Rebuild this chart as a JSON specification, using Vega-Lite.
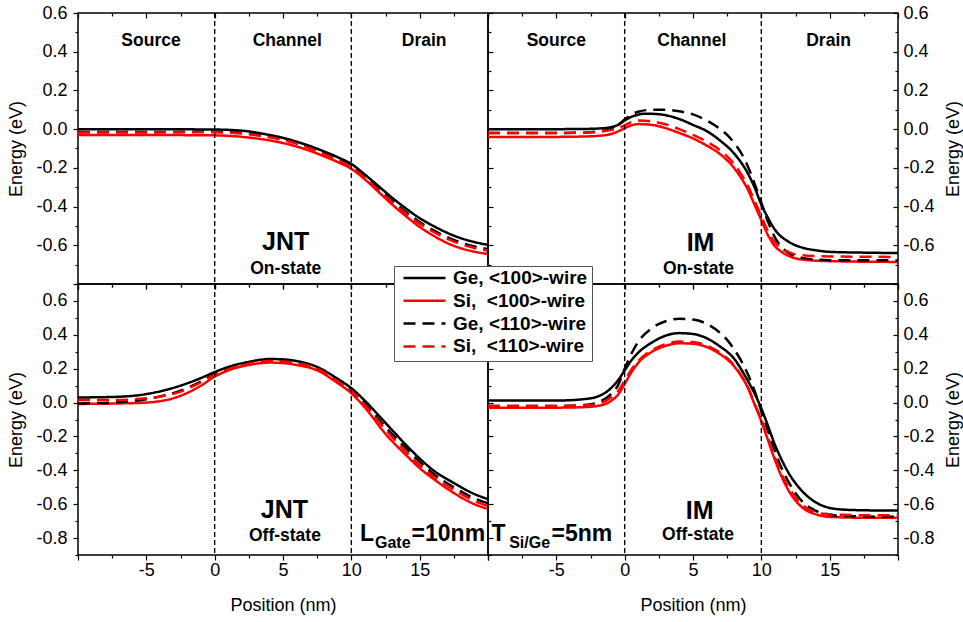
{
"$schema": "https://vega.github.io/schema/vega-lite/v6.json",
"background": "white",
"padding": {"left": 7, "top": 3, "right": 0, "bottom": 0},
"bounds": "flush",
"spacing": 0,
"columns": 2,
"config": {
  "font": "Liberation Sans",
  "view": {"stroke": "#000", "strokeWidth": 1.5},
  "axis": {"labelFont": "Liberation Sans", "labelFontSize": 18, "labelColor": "#000", "titleFont": "Liberation Sans", "titleFontSize": 18, "titleFontWeight": "normal", "titleColor": "#000", "tickColor": "#000", "tickWidth": 1.2, "domain": false, "grid": false, "labelFlush": false, "labelOverlap": false},
  "legend": {"labelFont": "Liberation Sans"}
},
"datasets": {
"curves": [
{"p":"TL","s":"g1","x":-10,"y":0},{"p":"TL","s":"g1","x":-5,"y":0},{"p":"TL","s":"g1","x":-2,"y":-0.001},{"p":"TL","s":"g1","x":0,"y":-0.002},{"p":"TL","s":"g1","x":2,"y":-0.008},{"p":"TL","s":"g1","x":4,"y":-0.03},{"p":"TL","s":"g1","x":5,"y":-0.045},{"p":"TL","s":"g1","x":6,"y":-0.065},{"p":"TL","s":"g1","x":7,"y":-0.088},{"p":"TL","s":"g1","x":8,"y":-0.115},{"p":"TL","s":"g1","x":9,"y":-0.145},{"p":"TL","s":"g1","x":10,"y":-0.18},{"p":"TL","s":"g1","x":11,"y":-0.235},{"p":"TL","s":"g1","x":12,"y":-0.295},{"p":"TL","s":"g1","x":13,"y":-0.355},{"p":"TL","s":"g1","x":14,"y":-0.41},{"p":"TL","s":"g1","x":15,"y":-0.46},{"p":"TL","s":"g1","x":16,"y":-0.5},{"p":"TL","s":"g1","x":17,"y":-0.535},{"p":"TL","s":"g1","x":18,"y":-0.563},{"p":"TL","s":"g1","x":19,"y":-0.583},{"p":"TL","s":"g1","x":20,"y":-0.598},
{"p":"TL","s":"s1","x":-10,"y":-0.03},{"p":"TL","s":"s1","x":-5,"y":-0.03},{"p":"TL","s":"s1","x":-2,"y":-0.031},{"p":"TL","s":"s1","x":0,"y":-0.032},{"p":"TL","s":"s1","x":2,"y":-0.04},{"p":"TL","s":"s1","x":4,"y":-0.058},{"p":"TL","s":"s1","x":5,"y":-0.072},{"p":"TL","s":"s1","x":6,"y":-0.09},{"p":"TL","s":"s1","x":7,"y":-0.113},{"p":"TL","s":"s1","x":8,"y":-0.14},{"p":"TL","s":"s1","x":9,"y":-0.17},{"p":"TL","s":"s1","x":10,"y":-0.205},{"p":"TL","s":"s1","x":11,"y":-0.26},{"p":"TL","s":"s1","x":12,"y":-0.325},{"p":"TL","s":"s1","x":13,"y":-0.39},{"p":"TL","s":"s1","x":14,"y":-0.45},{"p":"TL","s":"s1","x":15,"y":-0.505},{"p":"TL","s":"s1","x":16,"y":-0.55},{"p":"TL","s":"s1","x":17,"y":-0.588},{"p":"TL","s":"s1","x":18,"y":-0.615},{"p":"TL","s":"s1","x":19,"y":-0.633},{"p":"TL","s":"s1","x":20,"y":-0.645},
{"p":"TL","s":"g0","x":-10,"y":-0.015},{"p":"TL","s":"g0","x":-5,"y":-0.015},{"p":"TL","s":"g0","x":-2,"y":-0.014},{"p":"TL","s":"g0","x":0,"y":-0.014},{"p":"TL","s":"g0","x":2,"y":-0.02},{"p":"TL","s":"g0","x":4,"y":-0.038},{"p":"TL","s":"g0","x":5,"y":-0.052},{"p":"TL","s":"g0","x":6,"y":-0.072},{"p":"TL","s":"g0","x":7,"y":-0.096},{"p":"TL","s":"g0","x":8,"y":-0.124},{"p":"TL","s":"g0","x":9,"y":-0.155},{"p":"TL","s":"g0","x":10,"y":-0.19},{"p":"TL","s":"g0","x":11,"y":-0.245},{"p":"TL","s":"g0","x":12,"y":-0.308},{"p":"TL","s":"g0","x":13,"y":-0.37},{"p":"TL","s":"g0","x":14,"y":-0.428},{"p":"TL","s":"g0","x":15,"y":-0.48},{"p":"TL","s":"g0","x":16,"y":-0.522},{"p":"TL","s":"g0","x":17,"y":-0.558},{"p":"TL","s":"g0","x":18,"y":-0.586},{"p":"TL","s":"g0","x":19,"y":-0.606},{"p":"TL","s":"g0","x":20,"y":-0.62},
{"p":"TL","s":"s0","x":-10,"y":-0.017},{"p":"TL","s":"s0","x":-5,"y":-0.017},{"p":"TL","s":"s0","x":-2,"y":-0.016},{"p":"TL","s":"s0","x":0,"y":-0.016},{"p":"TL","s":"s0","x":2,"y":-0.023},{"p":"TL","s":"s0","x":4,"y":-0.042},{"p":"TL","s":"s0","x":5,"y":-0.056},{"p":"TL","s":"s0","x":6,"y":-0.076},{"p":"TL","s":"s0","x":7,"y":-0.1},{"p":"TL","s":"s0","x":8,"y":-0.129},{"p":"TL","s":"s0","x":9,"y":-0.16},{"p":"TL","s":"s0","x":10,"y":-0.196},{"p":"TL","s":"s0","x":11,"y":-0.252},{"p":"TL","s":"s0","x":12,"y":-0.316},{"p":"TL","s":"s0","x":13,"y":-0.378},{"p":"TL","s":"s0","x":14,"y":-0.437},{"p":"TL","s":"s0","x":15,"y":-0.488},{"p":"TL","s":"s0","x":16,"y":-0.53},{"p":"TL","s":"s0","x":17,"y":-0.566},{"p":"TL","s":"s0","x":18,"y":-0.594},{"p":"TL","s":"s0","x":19,"y":-0.614},{"p":"TL","s":"s0","x":20,"y":-0.628},

{"p":"TR","s":"g1","x":-10,"y":0},{"p":"TR","s":"g1","x":-5,"y":0},{"p":"TR","s":"g1","x":-3,"y":0.001},{"p":"TR","s":"g1","x":-2,"y":0.003},{"p":"TR","s":"g1","x":-1,"y":0.01},{"p":"TR","s":"g1","x":-0.5,"y":0.022},{"p":"TR","s":"g1","x":0,"y":0.045},{"p":"TR","s":"g1","x":0.5,"y":0.064},{"p":"TR","s":"g1","x":1,"y":0.075},{"p":"TR","s":"g1","x":1.5,"y":0.08},{"p":"TR","s":"g1","x":2.5,"y":0.077},{"p":"TR","s":"g1","x":4,"y":0.052},{"p":"TR","s":"g1","x":5,"y":0.022},{"p":"TR","s":"g1","x":6,"y":-0.01},{"p":"TR","s":"g1","x":7,"y":-0.06},{"p":"TR","s":"g1","x":8,"y":-0.125},{"p":"TR","s":"g1","x":9,"y":-0.227},{"p":"TR","s":"g1","x":9.5,"y":-0.3},{"p":"TR","s":"g1","x":10,"y":-0.39},{"p":"TR","s":"g1","x":10.5,"y":-0.46},{"p":"TR","s":"g1","x":11,"y":-0.52},{"p":"TR","s":"g1","x":12,"y":-0.582},{"p":"TR","s":"g1","x":13,"y":-0.612},{"p":"TR","s":"g1","x":14,"y":-0.626},{"p":"TR","s":"g1","x":15,"y":-0.634},{"p":"TR","s":"g1","x":17.5,"y":-0.638},{"p":"TR","s":"g1","x":20,"y":-0.64},
{"p":"TR","s":"s1","x":-10,"y":-0.04},{"p":"TR","s":"s1","x":-5,"y":-0.04},{"p":"TR","s":"s1","x":-3,"y":-0.038},{"p":"TR","s":"s1","x":-2,"y":-0.035},{"p":"TR","s":"s1","x":-1,"y":-0.025},{"p":"TR","s":"s1","x":-0.5,"y":-0.012},{"p":"TR","s":"s1","x":0,"y":0.005},{"p":"TR","s":"s1","x":0.5,"y":0.02},{"p":"TR","s":"s1","x":1,"y":0.026},{"p":"TR","s":"s1","x":2,"y":0.022},{"p":"TR","s":"s1","x":3,"y":0.005},{"p":"TR","s":"s1","x":4,"y":-0.02},{"p":"TR","s":"s1","x":5,"y":-0.048},{"p":"TR","s":"s1","x":6,"y":-0.085},{"p":"TR","s":"s1","x":7,"y":-0.13},{"p":"TR","s":"s1","x":8,"y":-0.2},{"p":"TR","s":"s1","x":8.5,"y":-0.25},{"p":"TR","s":"s1","x":9,"y":-0.31},{"p":"TR","s":"s1","x":9.5,"y":-0.39},{"p":"TR","s":"s1","x":10,"y":-0.47},{"p":"TR","s":"s1","x":10.5,"y":-0.55},{"p":"TR","s":"s1","x":11,"y":-0.605},{"p":"TR","s":"s1","x":11.5,"y":-0.635},{"p":"TR","s":"s1","x":12,"y":-0.655},{"p":"TR","s":"s1","x":13,"y":-0.674},{"p":"TR","s":"s1","x":15,"y":-0.682},{"p":"TR","s":"s1","x":20,"y":-0.686},
{"p":"TR","s":"g0","x":-10,"y":-0.02},{"p":"TR","s":"g0","x":-5,"y":-0.02},{"p":"TR","s":"g0","x":-3,"y":-0.018},{"p":"TR","s":"g0","x":-2,"y":-0.012},{"p":"TR","s":"g0","x":-1,"y":0},{"p":"TR","s":"g0","x":-0.5,"y":0.02},{"p":"TR","s":"g0","x":0,"y":0.05},{"p":"TR","s":"g0","x":0.5,"y":0.075},{"p":"TR","s":"g0","x":1,"y":0.09},{"p":"TR","s":"g0","x":2,"y":0.1},{"p":"TR","s":"g0","x":3,"y":0.1},{"p":"TR","s":"g0","x":4,"y":0.092},{"p":"TR","s":"g0","x":5,"y":0.076},{"p":"TR","s":"g0","x":6,"y":0.045},{"p":"TR","s":"g0","x":7,"y":0},{"p":"TR","s":"g0","x":7.5,"y":-0.03},{"p":"TR","s":"g0","x":8,"y":-0.07},{"p":"TR","s":"g0","x":8.5,"y":-0.12},{"p":"TR","s":"g0","x":9,"y":-0.19},{"p":"TR","s":"g0","x":9.5,"y":-0.28},{"p":"TR","s":"g0","x":10,"y":-0.38},{"p":"TR","s":"g0","x":10.5,"y":-0.48},{"p":"TR","s":"g0","x":11,"y":-0.56},{"p":"TR","s":"g0","x":11.5,"y":-0.61},{"p":"TR","s":"g0","x":12,"y":-0.64},{"p":"TR","s":"g0","x":13,"y":-0.665},{"p":"TR","s":"g0","x":14,"y":-0.674},{"p":"TR","s":"g0","x":15,"y":-0.677},{"p":"TR","s":"g0","x":20,"y":-0.678},
{"p":"TR","s":"s0","x":-10,"y":-0.02},{"p":"TR","s":"s0","x":-5,"y":-0.02},{"p":"TR","s":"s0","x":-3,"y":-0.018},{"p":"TR","s":"s0","x":-2,"y":-0.015},{"p":"TR","s":"s0","x":-1,"y":-0.005},{"p":"TR","s":"s0","x":-0.5,"y":0.005},{"p":"TR","s":"s0","x":0,"y":0.02},{"p":"TR","s":"s0","x":0.5,"y":0.037},{"p":"TR","s":"s0","x":1,"y":0.045},{"p":"TR","s":"s0","x":2,"y":0.04},{"p":"TR","s":"s0","x":3,"y":0.025},{"p":"TR","s":"s0","x":4,"y":0},{"p":"TR","s":"s0","x":5,"y":-0.03},{"p":"TR","s":"s0","x":6,"y":-0.065},{"p":"TR","s":"s0","x":7,"y":-0.11},{"p":"TR","s":"s0","x":8,"y":-0.18},{"p":"TR","s":"s0","x":8.5,"y":-0.23},{"p":"TR","s":"s0","x":9,"y":-0.29},{"p":"TR","s":"s0","x":9.5,"y":-0.37},{"p":"TR","s":"s0","x":10,"y":-0.45},{"p":"TR","s":"s0","x":10.5,"y":-0.53},{"p":"TR","s":"s0","x":11,"y":-0.585},{"p":"TR","s":"s0","x":11.5,"y":-0.615},{"p":"TR","s":"s0","x":12,"y":-0.635},{"p":"TR","s":"s0","x":13,"y":-0.652},{"p":"TR","s":"s0","x":15,"y":-0.658},{"p":"TR","s":"s0","x":20,"y":-0.66},

{"p":"BL","s":"g1","x":-10,"y":0.03},{"p":"BL","s":"g1","x":-7.5,"y":0.033},{"p":"BL","s":"g1","x":-5,"y":0.05},{"p":"BL","s":"g1","x":-2.5,"y":0.1},{"p":"BL","s":"g1","x":-1,"y":0.145},{"p":"BL","s":"g1","x":0,"y":0.18},{"p":"BL","s":"g1","x":1,"y":0.21},{"p":"BL","s":"g1","x":2.5,"y":0.24},{"p":"BL","s":"g1","x":4,"y":0.257},{"p":"BL","s":"g1","x":5,"y":0.255},{"p":"BL","s":"g1","x":6,"y":0.245},{"p":"BL","s":"g1","x":7.5,"y":0.21},{"p":"BL","s":"g1","x":9,"y":0.14},{"p":"BL","s":"g1","x":10,"y":0.085},{"p":"BL","s":"g1","x":11,"y":0.01},{"p":"BL","s":"g1","x":12.5,"y":-0.12},{"p":"BL","s":"g1","x":14,"y":-0.25},{"p":"BL","s":"g1","x":15,"y":-0.33},{"p":"BL","s":"g1","x":16,"y":-0.4},{"p":"BL","s":"g1","x":17.5,"y":-0.475},{"p":"BL","s":"g1","x":19,"y":-0.54},{"p":"BL","s":"g1","x":20,"y":-0.57},
{"p":"BL","s":"s1","x":-10,"y":-0.008},{"p":"BL","s":"s1","x":-7.5,"y":-0.006},{"p":"BL","s":"s1","x":-5,"y":0},{"p":"BL","s":"s1","x":-2.5,"y":0.04},{"p":"BL","s":"s1","x":-1,"y":0.1},{"p":"BL","s":"s1","x":0,"y":0.153},{"p":"BL","s":"s1","x":1,"y":0.19},{"p":"BL","s":"s1","x":2.5,"y":0.222},{"p":"BL","s":"s1","x":4,"y":0.236},{"p":"BL","s":"s1","x":5,"y":0.233},{"p":"BL","s":"s1","x":6,"y":0.222},{"p":"BL","s":"s1","x":7.5,"y":0.19},{"p":"BL","s":"s1","x":9,"y":0.115},{"p":"BL","s":"s1","x":10,"y":0.055},{"p":"BL","s":"s1","x":11,"y":-0.03},{"p":"BL","s":"s1","x":12.5,"y":-0.185},{"p":"BL","s":"s1","x":14,"y":-0.31},{"p":"BL","s":"s1","x":15,"y":-0.387},{"p":"BL","s":"s1","x":16,"y":-0.45},{"p":"BL","s":"s1","x":17.5,"y":-0.534},{"p":"BL","s":"s1","x":19,"y":-0.6},{"p":"BL","s":"s1","x":20,"y":-0.628},
{"p":"BL","s":"g0","x":-10,"y":-0.005},{"p":"BL","s":"g0","x":-7.5,"y":0},{"p":"BL","s":"g0","x":-5,"y":0.02},{"p":"BL","s":"g0","x":-2.5,"y":0.07},{"p":"BL","s":"g0","x":-1,"y":0.125},{"p":"BL","s":"g0","x":0,"y":0.17},{"p":"BL","s":"g0","x":1,"y":0.2},{"p":"BL","s":"g0","x":2.5,"y":0.235},{"p":"BL","s":"g0","x":4,"y":0.25},{"p":"BL","s":"g0","x":5,"y":0.248},{"p":"BL","s":"g0","x":6,"y":0.238},{"p":"BL","s":"g0","x":7.5,"y":0.205},{"p":"BL","s":"g0","x":9,"y":0.13},{"p":"BL","s":"g0","x":10,"y":0.075},{"p":"BL","s":"g0","x":11,"y":-0.005},{"p":"BL","s":"g0","x":12.5,"y":-0.145},{"p":"BL","s":"g0","x":14,"y":-0.27},{"p":"BL","s":"g0","x":15,"y":-0.35},{"p":"BL","s":"g0","x":16,"y":-0.42},{"p":"BL","s":"g0","x":17.5,"y":-0.5},{"p":"BL","s":"g0","x":19,"y":-0.565},{"p":"BL","s":"g0","x":20,"y":-0.595},
{"p":"BL","s":"s0","x":-10,"y":0.015},{"p":"BL","s":"s0","x":-7.5,"y":0.015},{"p":"BL","s":"s0","x":-5,"y":0.025},{"p":"BL","s":"s0","x":-2.5,"y":0.065},{"p":"BL","s":"s0","x":-1,"y":0.12},{"p":"BL","s":"s0","x":0,"y":0.165},{"p":"BL","s":"s0","x":1,"y":0.197},{"p":"BL","s":"s0","x":2.5,"y":0.23},{"p":"BL","s":"s0","x":4,"y":0.245},{"p":"BL","s":"s0","x":5,"y":0.243},{"p":"BL","s":"s0","x":6,"y":0.233},{"p":"BL","s":"s0","x":7.5,"y":0.2},{"p":"BL","s":"s0","x":9,"y":0.125},{"p":"BL","s":"s0","x":10,"y":0.068},{"p":"BL","s":"s0","x":11,"y":-0.015},{"p":"BL","s":"s0","x":12.5,"y":-0.16},{"p":"BL","s":"s0","x":14,"y":-0.29},{"p":"BL","s":"s0","x":15,"y":-0.37},{"p":"BL","s":"s0","x":16,"y":-0.435},{"p":"BL","s":"s0","x":17.5,"y":-0.515},{"p":"BL","s":"s0","x":19,"y":-0.58},{"p":"BL","s":"s0","x":20,"y":-0.61},

{"p":"BR","s":"g1","x":-10,"y":0.012},{"p":"BR","s":"g1","x":-5,"y":0.012},{"p":"BR","s":"g1","x":-3,"y":0.02},{"p":"BR","s":"g1","x":-2,"y":0.035},{"p":"BR","s":"g1","x":-1,"y":0.085},{"p":"BR","s":"g1","x":-0.5,"y":0.13},{"p":"BR","s":"g1","x":0,"y":0.19},{"p":"BR","s":"g1","x":0.5,"y":0.25},{"p":"BR","s":"g1","x":1,"y":0.295},{"p":"BR","s":"g1","x":2,"y":0.355},{"p":"BR","s":"g1","x":3,"y":0.395},{"p":"BR","s":"g1","x":4,"y":0.41},{"p":"BR","s":"g1","x":5,"y":0.405},{"p":"BR","s":"g1","x":6,"y":0.38},{"p":"BR","s":"g1","x":7,"y":0.33},{"p":"BR","s":"g1","x":7.5,"y":0.3},{"p":"BR","s":"g1","x":8,"y":0.26},{"p":"BR","s":"g1","x":8.5,"y":0.2},{"p":"BR","s":"g1","x":9,"y":0.13},{"p":"BR","s":"g1","x":9.5,"y":0.055},{"p":"BR","s":"g1","x":10,"y":-0.035},{"p":"BR","s":"g1","x":10.5,"y":-0.14},{"p":"BR","s":"g1","x":11,"y":-0.25},{"p":"BR","s":"g1","x":11.5,"y":-0.34},{"p":"BR","s":"g1","x":12,"y":-0.416},{"p":"BR","s":"g1","x":13,"y":-0.524},{"p":"BR","s":"g1","x":14,"y":-0.59},{"p":"BR","s":"g1","x":15,"y":-0.622},{"p":"BR","s":"g1","x":16,"y":-0.632},{"p":"BR","s":"g1","x":17.5,"y":-0.636},{"p":"BR","s":"g1","x":20,"y":-0.638},
{"p":"BR","s":"s1","x":-10,"y":-0.03},{"p":"BR","s":"s1","x":-5,"y":-0.03},{"p":"BR","s":"s1","x":-3,"y":-0.027},{"p":"BR","s":"s1","x":-2,"y":-0.02},{"p":"BR","s":"s1","x":-1,"y":0.01},{"p":"BR","s":"s1","x":-0.5,"y":0.045},{"p":"BR","s":"s1","x":0,"y":0.11},{"p":"BR","s":"s1","x":0.5,"y":0.18},{"p":"BR","s":"s1","x":1,"y":0.235},{"p":"BR","s":"s1","x":2,"y":0.3},{"p":"BR","s":"s1","x":3,"y":0.335},{"p":"BR","s":"s1","x":4,"y":0.35},{"p":"BR","s":"s1","x":5,"y":0.347},{"p":"BR","s":"s1","x":6,"y":0.328},{"p":"BR","s":"s1","x":7,"y":0.285},{"p":"BR","s":"s1","x":7.5,"y":0.255},{"p":"BR","s":"s1","x":8,"y":0.215},{"p":"BR","s":"s1","x":8.5,"y":0.16},{"p":"BR","s":"s1","x":9,"y":0.09},{"p":"BR","s":"s1","x":9.5,"y":-0.01},{"p":"BR","s":"s1","x":10,"y":-0.11},{"p":"BR","s":"s1","x":10.5,"y":-0.225},{"p":"BR","s":"s1","x":11,"y":-0.34},{"p":"BR","s":"s1","x":11.5,"y":-0.44},{"p":"BR","s":"s1","x":12,"y":-0.52},{"p":"BR","s":"s1","x":13,"y":-0.62},{"p":"BR","s":"s1","x":14,"y":-0.66},{"p":"BR","s":"s1","x":15,"y":-0.675},{"p":"BR","s":"s1","x":17.5,"y":-0.68},{"p":"BR","s":"s1","x":20,"y":-0.68},
{"p":"BR","s":"g0","x":-10,"y":-0.02},{"p":"BR","s":"g0","x":-5,"y":-0.02},{"p":"BR","s":"g0","x":-3,"y":-0.015},{"p":"BR","s":"g0","x":-2,"y":0},{"p":"BR","s":"g0","x":-1,"y":0.05},{"p":"BR","s":"g0","x":-0.5,"y":0.1},{"p":"BR","s":"g0","x":0,"y":0.2},{"p":"BR","s":"g0","x":0.5,"y":0.29},{"p":"BR","s":"g0","x":1,"y":0.36},{"p":"BR","s":"g0","x":2,"y":0.44},{"p":"BR","s":"g0","x":3,"y":0.48},{"p":"BR","s":"g0","x":4,"y":0.495},{"p":"BR","s":"g0","x":5,"y":0.49},{"p":"BR","s":"g0","x":6,"y":0.465},{"p":"BR","s":"g0","x":7,"y":0.41},{"p":"BR","s":"g0","x":7.5,"y":0.37},{"p":"BR","s":"g0","x":8,"y":0.315},{"p":"BR","s":"g0","x":8.5,"y":0.25},{"p":"BR","s":"g0","x":9,"y":0.17},{"p":"BR","s":"g0","x":9.5,"y":0.07},{"p":"BR","s":"g0","x":10,"y":-0.05},{"p":"BR","s":"g0","x":10.5,"y":-0.17},{"p":"BR","s":"g0","x":11,"y":-0.29},{"p":"BR","s":"g0","x":11.5,"y":-0.39},{"p":"BR","s":"g0","x":12,"y":-0.47},{"p":"BR","s":"g0","x":13,"y":-0.585},{"p":"BR","s":"g0","x":14,"y":-0.64},{"p":"BR","s":"g0","x":15,"y":-0.662},{"p":"BR","s":"g0","x":16,"y":-0.67},{"p":"BR","s":"g0","x":20,"y":-0.675},
{"p":"BR","s":"s0","x":-10,"y":-0.02},{"p":"BR","s":"s0","x":-5,"y":-0.02},{"p":"BR","s":"s0","x":-3,"y":-0.017},{"p":"BR","s":"s0","x":-2,"y":-0.008},{"p":"BR","s":"s0","x":-1,"y":0.03},{"p":"BR","s":"s0","x":-0.5,"y":0.065},{"p":"BR","s":"s0","x":0,"y":0.13},{"p":"BR","s":"s0","x":0.5,"y":0.195},{"p":"BR","s":"s0","x":1,"y":0.245},{"p":"BR","s":"s0","x":2,"y":0.31},{"p":"BR","s":"s0","x":3,"y":0.345},{"p":"BR","s":"s0","x":4,"y":0.36},{"p":"BR","s":"s0","x":5,"y":0.357},{"p":"BR","s":"s0","x":6,"y":0.337},{"p":"BR","s":"s0","x":7,"y":0.293},{"p":"BR","s":"s0","x":7.5,"y":0.262},{"p":"BR","s":"s0","x":8,"y":0.222},{"p":"BR","s":"s0","x":8.5,"y":0.165},{"p":"BR","s":"s0","x":9,"y":0.095},{"p":"BR","s":"s0","x":9.5,"y":-0.005},{"p":"BR","s":"s0","x":10,"y":-0.1},{"p":"BR","s":"s0","x":10.5,"y":-0.21},{"p":"BR","s":"s0","x":11,"y":-0.325},{"p":"BR","s":"s0","x":11.5,"y":-0.425},{"p":"BR","s":"s0","x":12,"y":-0.5},{"p":"BR","s":"s0","x":13,"y":-0.605},{"p":"BR","s":"s0","x":14,"y":-0.648},{"p":"BR","s":"s0","x":15,"y":-0.66},{"p":"BR","s":"s0","x":17.5,"y":-0.665},{"p":"BR","s":"s0","x":20,"y":-0.665}
]
},
"concat": [
 {"width": 410, "height": 271,
  "layer": [
   {"data": {"name": "curves"}, "transform": [{"filter": "datum.p == 'TL'"}],
    "mark": {"type": "line", "strokeWidth": 2.5, "interpolate": "monotone"},
    "encoding": {
     "x": {"field": "x", "type": "quantitative", "scale": {"domain": [-10, 20], "nice": false, "zero": false},
       "axis": {"orient": "bottom", "values": [-10,-7.5,-5,-2.5,0,2.5,5,7.5,10,12.5,15,17.5,20], "labels": false, "title": null, "tickSize": {"condition": {"test": "datum.value % 5 == 0", "value": 5}, "value": 3}}},
     "y": {"field": "y", "type": "quantitative", "scale": {"domain": [-0.8, 0.6], "nice": false, "zero": false},
       "axis": {"orient": "left", "values": [-0.8,-0.7,-0.6,-0.5,-0.4,-0.3,-0.2,-0.1,0,0.1,0.2,0.3,0.4,0.5,0.6], "labelExpr": "abs(round(datum.value*10)) % 2 == 0 && datum.value > -0.75 ? (datum.value < 0 ? '-' : '') + format(abs(datum.value), '.1f') : ''", "tickSize": {"condition": {"test": "abs(round(datum.value*10)) % 2 == 0", "value": 5}, "value": 3}, "labelPadding": 6, "title": "Energy (eV)", "titlePadding": 10}},
     "color": {"field": "s", "type": "nominal", "scale": {"domain": ["g1","s1","g0","s0"], "range": ["#000000","#ff0000","#000000","#ff0000"]},
       "legend": {"orient": "none", "legendX": 316, "legendY": 253, "title": null, "symbolType": "stroke", "symbolSize": 1764, "symbolStrokeWidth": 2.5, "symbolOffset": 4, "labelFontSize": 19, "labelFontWeight": "bold", "labelColor": "#000", "fillColor": "#fff", "strokeColor": "#555", "padding": 4, "labelOffset": 6, "rowPadding": 3.8, "clipHeight": 16, "labelExpr": "datum.label == 'g1' ? 'Ge, <100>-wire' : datum.label == 's1' ? 'Si,\u00a0 <100>-wire' : datum.label == 'g0' ? 'Ge, <110>-wire' : 'Si,\u00a0 <110>-wire'"}},
     "strokeDash": {"field": "s", "type": "nominal", "scale": {"domain": ["g1","s1","g0","s0"], "range": [[1,0],[1,0],[12,7],[12,7]]},
       "legend": {"orient": "none", "legendX": 316, "legendY": 253, "title": null, "symbolType": "stroke", "symbolSize": 1764, "symbolStrokeWidth": 2.5, "symbolOffset": 4, "labelFontSize": 19, "labelFontWeight": "bold", "labelColor": "#000", "fillColor": "#fff", "strokeColor": "#555", "padding": 4, "labelOffset": 6, "rowPadding": 3.8, "clipHeight": 16, "labelExpr": "datum.label == 'g1' ? 'Ge, <100>-wire' : datum.label == 's1' ? 'Si,\u00a0 <100>-wire' : datum.label == 'g0' ? 'Ge, <110>-wire' : 'Si,\u00a0 <110>-wire'"}}
    }},
   {"data": {"values": [{"x": 0}, {"x": 10}]},
    "mark": {"type": "rule", "strokeDash": [5, 3], "strokeWidth": 1.4, "color": "#000"},
    "encoding": {"x": {"field": "x", "type": "quantitative", "scale": {"domain": [-10, 20], "nice": false, "zero": false},
      "axis": {"orient": "top", "values": [-10,-7.5,-5,-2.5,0,2.5,5,7.5,10,12.5,15,17.5,20], "labels": false, "title": null, "tickSize": {"condition": {"test": "datum.value % 5 == 0", "value": -5}, "value": -3}}}}},
   {"data": {"values": [{"x": -4.66, "y": 0.455, "t": "Source"}, {"x": 5.31, "y": 0.455, "t": "Channel"}, {"x": 15.33, "y": 0.455, "t": "Drain"}, {"x": 5.2, "y": -0.721, "t": "On-state"}]},
    "mark": {"type": "text", "font": "Liberation Sans", "fontWeight": "bold", "fontSize": 17.5, "baseline": "middle", "color": "#000"},
    "encoding": {"x": {"field": "x", "type": "quantitative", "axis": null},
     "y": {"field": "y", "type": "quantitative", "axis": {"orient": "right", "values": [-0.8,-0.7,-0.6,-0.5,-0.4,-0.3,-0.2,-0.1,0,0.1,0.2,0.3,0.4,0.5,0.6], "labels": false, "title": null, "tickSize": {"condition": {"test": "abs(round(datum.value*10)) % 2 == 0", "value": 5}, "value": 3}}},
     "text": {"field": "t"}}},
   {"data": {"values": [{"x": 5.2, "y": -0.581, "t": "JNT"}]},
    "mark": {"type": "text", "font": "Liberation Sans", "fontWeight": "bold", "fontSize": 25, "baseline": "middle", "color": "#000"},
    "encoding": {"x": {"field": "x", "type": "quantitative", "axis": null}, "y": {"field": "y", "type": "quantitative", "axis": null}, "text": {"field": "t"}}}
  ],
  "resolve": {"axis": {"x": "independent", "y": "independent"}}
 },
 {"width": 410, "height": 271,
  "layer": [
   {"data": {"name": "curves"}, "transform": [{"filter": "datum.p == 'TR'"}],
    "mark": {"type": "line", "strokeWidth": 2.5, "interpolate": "monotone"},
    "encoding": {
     "x": {"field": "x", "type": "quantitative", "scale": {"domain": [-10, 20], "nice": false, "zero": false},
       "axis": {"orient": "bottom", "values": [-10,-7.5,-5,-2.5,0,2.5,5,7.5,10,12.5,15,17.5,20], "labels": false, "title": null, "tickSize": {"condition": {"test": "datum.value % 5 == 0", "value": 5}, "value": 3}}},
     "y": {"field": "y", "type": "quantitative", "scale": {"domain": [-0.8, 0.6], "nice": false, "zero": false},
       "axis": {"orient": "right", "values": [-0.8,-0.7,-0.6,-0.5,-0.4,-0.3,-0.2,-0.1,0,0.1,0.2,0.3,0.4,0.5,0.6], "labelExpr": "abs(round(datum.value*10)) % 2 == 0 && datum.value > -0.75 ? (datum.value < 0 ? '-' : '') + format(abs(datum.value), '.1f') : ''", "tickSize": {"condition": {"test": "abs(round(datum.value*10)) % 2 == 0", "value": -5}, "value": -3}, "labelPadding": 10, "title": "Energy (eV)", "titleAngle": 270, "titleBaseline": "top", "titlePadding": 10}},
     "color": {"field": "s", "type": "nominal", "scale": {"domain": ["g1","s1","g0","s0"], "range": ["#000000","#ff0000","#000000","#ff0000"]},
       "legend": {"orient": "none", "legendX": 316, "legendY": 253, "title": null, "symbolType": "stroke", "symbolSize": 1764, "symbolStrokeWidth": 2.5, "symbolOffset": 4, "labelFontSize": 19, "labelFontWeight": "bold", "labelColor": "#000", "fillColor": "#fff", "strokeColor": "#555", "padding": 4, "labelOffset": 6, "rowPadding": 3.8, "clipHeight": 16, "labelExpr": "datum.label == 'g1' ? 'Ge, <100>-wire' : datum.label == 's1' ? 'Si,\u00a0 <100>-wire' : datum.label == 'g0' ? 'Ge, <110>-wire' : 'Si,\u00a0 <110>-wire'"}},
     "strokeDash": {"field": "s", "type": "nominal", "scale": {"domain": ["g1","s1","g0","s0"], "range": [[1,0],[1,0],[12,7],[12,7]]},
       "legend": {"orient": "none", "legendX": 316, "legendY": 253, "title": null, "symbolType": "stroke", "symbolSize": 1764, "symbolStrokeWidth": 2.5, "symbolOffset": 4, "labelFontSize": 19, "labelFontWeight": "bold", "labelColor": "#000", "fillColor": "#fff", "strokeColor": "#555", "padding": 4, "labelOffset": 6, "rowPadding": 3.8, "clipHeight": 16, "labelExpr": "datum.label == 'g1' ? 'Ge, <100>-wire' : datum.label == 's1' ? 'Si,\u00a0 <100>-wire' : datum.label == 'g0' ? 'Ge, <110>-wire' : 'Si,\u00a0 <110>-wire'"}}
    }},
   {"data": {"values": [{"x": 0}, {"x": 10}]},
    "mark": {"type": "rule", "strokeDash": [5, 3], "strokeWidth": 1.4, "color": "#000"},
    "encoding": {"x": {"field": "x", "type": "quantitative", "scale": {"domain": [-10, 20], "nice": false, "zero": false},
      "axis": {"orient": "top", "values": [-10,-7.5,-5,-2.5,0,2.5,5,7.5,10,12.5,15,17.5,20], "labels": false, "title": null, "tickSize": {"condition": {"test": "datum.value % 5 == 0", "value": -5}, "value": -3}}}}},
   {"data": {"values": [{"x": -5.0, "y": 0.455, "t": "Source"}, {"x": 4.91, "y": 0.455, "t": "Channel"}, {"x": 14.92, "y": 0.455, "t": "Drain"}, {"x": 5.4, "y": -0.721, "t": "On-state"}]},
    "mark": {"type": "text", "font": "Liberation Sans", "fontWeight": "bold", "fontSize": 17.5, "baseline": "middle", "color": "#000"},
    "encoding": {"x": {"field": "x", "type": "quantitative", "axis": null}, "y": {"field": "y", "type": "quantitative", "axis": null}, "text": {"field": "t"}}},
   {"data": {"values": [{"x": 5.55, "y": -0.587, "t": "IM"}]},
    "mark": {"type": "text", "font": "Liberation Sans", "fontWeight": "bold", "fontSize": 25, "baseline": "middle", "color": "#000"},
    "encoding": {"x": {"field": "x", "type": "quantitative", "axis": null}, "y": {"field": "y", "type": "quantitative", "axis": null}, "text": {"field": "t"}}}
  ],
  "resolve": {"axis": {"x": "independent", "y": "independent"}}
 },
 {"width": 410, "height": 271,
  "layer": [
   {"data": {"name": "curves"}, "transform": [{"filter": "datum.p == 'BL'"}],
    "mark": {"type": "line", "strokeWidth": 2.5, "interpolate": "monotone"},
    "encoding": {
     "x": {"field": "x", "type": "quantitative", "scale": {"domain": [-10, 20], "nice": false, "zero": false},
       "axis": {"orient": "bottom", "values": [-10,-7.5,-5,-2.5,0,2.5,5,7.5,10,12.5,15,17.5,20], "labelExpr": "datum.value % 5 == 0 && datum.value > -10 && datum.value < 20 ? (datum.value < 0 ? '-' + abs(datum.value) : '' + datum.value) : ''", "tickSize": {"condition": {"test": "datum.value % 5 == 0", "value": 5}, "value": 3}, "labelPadding": 1, "title": "Position (nm)", "titlePadding": 17}},
     "y": {"field": "y", "type": "quantitative", "scale": {"domain": [-0.9, 0.7], "nice": false, "zero": false},
       "axis": {"orient": "left", "values": [-0.9,-0.8,-0.7,-0.6,-0.5,-0.4,-0.3,-0.2,-0.1,0,0.1,0.2,0.3,0.4,0.5,0.6,0.7], "labelExpr": "abs(round(datum.value*10)) % 2 == 0 && datum.value > -0.85 && datum.value < 0.65 ? (datum.value < 0 ? '-' : '') + format(abs(datum.value), '.1f') : ''", "tickSize": {"condition": {"test": "abs(round(datum.value*10)) % 2 == 0", "value": 5}, "value": 3}, "labelPadding": 6, "title": "Energy (eV)", "titlePadding": 10}},
     "color": {"field": "s", "type": "nominal", "scale": {"domain": ["g1","s1","g0","s0"], "range": ["#000000","#ff0000","#000000","#ff0000"]},
       "legend": {"orient": "none", "legendX": 316, "legendY": 253, "title": null, "symbolType": "stroke", "symbolSize": 1764, "symbolStrokeWidth": 2.5, "symbolOffset": 4, "labelFontSize": 19, "labelFontWeight": "bold", "labelColor": "#000", "fillColor": "#fff", "strokeColor": "#555", "padding": 4, "labelOffset": 6, "rowPadding": 3.8, "clipHeight": 16, "labelExpr": "datum.label == 'g1' ? 'Ge, <100>-wire' : datum.label == 's1' ? 'Si,\u00a0 <100>-wire' : datum.label == 'g0' ? 'Ge, <110>-wire' : 'Si,\u00a0 <110>-wire'"}},
     "strokeDash": {"field": "s", "type": "nominal", "scale": {"domain": ["g1","s1","g0","s0"], "range": [[1,0],[1,0],[12,7],[12,7]]},
       "legend": {"orient": "none", "legendX": 316, "legendY": 253, "title": null, "symbolType": "stroke", "symbolSize": 1764, "symbolStrokeWidth": 2.5, "symbolOffset": 4, "labelFontSize": 19, "labelFontWeight": "bold", "labelColor": "#000", "fillColor": "#fff", "strokeColor": "#555", "padding": 4, "labelOffset": 6, "rowPadding": 3.8, "clipHeight": 16, "labelExpr": "datum.label == 'g1' ? 'Ge, <100>-wire' : datum.label == 's1' ? 'Si,\u00a0 <100>-wire' : datum.label == 'g0' ? 'Ge, <110>-wire' : 'Si,\u00a0 <110>-wire'"}}
    }},
   {"data": {"values": [{"x": 0}, {"x": 10}]},
    "mark": {"type": "rule", "strokeDash": [5, 3], "strokeWidth": 1.4, "color": "#000"},
    "encoding": {"x": {"field": "x", "type": "quantitative", "scale": {"domain": [-10, 20], "nice": false, "zero": false},
      "axis": {"orient": "top", "values": [-10,-7.5,-5,-2.5,0,2.5,5,7.5,10,12.5,15,17.5,20], "labels": false, "title": null, "tickSize": {"condition": {"test": "datum.value % 5 == 0", "value": -5}, "value": -3}}}}},
   {"data": {"values": [{"x": 5.14, "y": -0.786, "t": "Off-state"}]},
    "mark": {"type": "text", "font": "Liberation Sans", "fontWeight": "bold", "fontSize": 17.5, "baseline": "middle", "color": "#000"},
    "encoding": {"x": {"field": "x", "type": "quantitative", "axis": null},
     "y": {"field": "y", "type": "quantitative", "axis": {"orient": "right", "values": [-0.9,-0.8,-0.7,-0.6,-0.5,-0.4,-0.3,-0.2,-0.1,0,0.1,0.2,0.3,0.4,0.5,0.6,0.7], "labels": false, "title": null, "tickSize": {"condition": {"test": "abs(round(datum.value*10)) % 2 == 0", "value": 5}, "value": 3}}},
     "text": {"field": "t"}}},
   {"data": {"values": [{"x": 5.1, "y": -0.634, "t": "JNT"}]},
    "mark": {"type": "text", "font": "Liberation Sans", "fontWeight": "bold", "fontSize": 25, "baseline": "middle", "color": "#000"},
    "encoding": {"x": {"field": "x", "type": "quantitative", "axis": null}, "y": {"field": "y", "type": "quantitative", "axis": null}, "text": {"field": "t"}}},
   {"data": {"values": [{"x": 10.63, "y": -0.818, "t": "L"}, {"x": 14.41, "y": -0.818, "t": "=10nm"}, {"x": 20.26, "y": -0.818, "t": "T"}, {"x": 24.65, "y": -0.818, "t": "=5nm"}]},
    "mark": {"type": "text", "font": "Liberation Sans", "fontWeight": "bold", "fontSize": 23, "align": "left", "baseline": "alphabetic", "color": "#000"},
    "encoding": {"x": {"field": "x", "type": "quantitative", "axis": null}, "y": {"field": "y", "type": "quantitative", "axis": null}, "text": {"field": "t"}}},
   {"data": {"values": [{"x": 11.73, "y": -0.861, "t": "Gate"}, {"x": 21.55, "y": -0.861, "t": "Si/Ge"}]},
    "mark": {"type": "text", "font": "Liberation Sans", "fontWeight": "bold", "fontSize": 16, "align": "left", "baseline": "alphabetic", "color": "#000"},
    "encoding": {"x": {"field": "x", "type": "quantitative", "axis": null}, "y": {"field": "y", "type": "quantitative", "axis": null}, "text": {"field": "t"}}}
  ],
  "resolve": {"axis": {"x": "independent", "y": "independent"}}
 },
 {"width": 410, "height": 271,
  "layer": [
   {"data": {"name": "curves"}, "transform": [{"filter": "datum.p == 'BR'"}],
    "mark": {"type": "line", "strokeWidth": 2.5, "interpolate": "monotone"},
    "encoding": {
     "x": {"field": "x", "type": "quantitative", "scale": {"domain": [-10, 20], "nice": false, "zero": false},
       "axis": {"orient": "bottom", "values": [-10,-7.5,-5,-2.5,0,2.5,5,7.5,10,12.5,15,17.5,20], "labelExpr": "datum.value % 5 == 0 && datum.value > -10 && datum.value < 20 ? (datum.value < 0 ? '-' + abs(datum.value) : '' + datum.value) : ''", "tickSize": {"condition": {"test": "datum.value % 5 == 0", "value": 5}, "value": 3}, "labelPadding": 1, "title": "Position (nm)", "titlePadding": 17}},
     "y": {"field": "y", "type": "quantitative", "scale": {"domain": [-0.9, 0.7], "nice": false, "zero": false},
       "axis": {"orient": "right", "values": [-0.9,-0.8,-0.7,-0.6,-0.5,-0.4,-0.3,-0.2,-0.1,0,0.1,0.2,0.3,0.4,0.5,0.6,0.7], "labelExpr": "abs(round(datum.value*10)) % 2 == 0 && datum.value > -0.85 && datum.value < 0.65 ? (datum.value < 0 ? '-' : '') + format(abs(datum.value), '.1f') : ''", "tickSize": {"condition": {"test": "abs(round(datum.value*10)) % 2 == 0", "value": -5}, "value": -3}, "labelPadding": 10, "title": "Energy (eV)", "titleAngle": 270, "titleBaseline": "top", "titlePadding": 10}},
     "color": {"field": "s", "type": "nominal", "scale": {"domain": ["g1","s1","g0","s0"], "range": ["#000000","#ff0000","#000000","#ff0000"]},
       "legend": {"orient": "none", "legendX": 316, "legendY": 253, "title": null, "symbolType": "stroke", "symbolSize": 1764, "symbolStrokeWidth": 2.5, "symbolOffset": 4, "labelFontSize": 19, "labelFontWeight": "bold", "labelColor": "#000", "fillColor": "#fff", "strokeColor": "#555", "padding": 4, "labelOffset": 6, "rowPadding": 3.8, "clipHeight": 16, "labelExpr": "datum.label == 'g1' ? 'Ge, <100>-wire' : datum.label == 's1' ? 'Si,\u00a0 <100>-wire' : datum.label == 'g0' ? 'Ge, <110>-wire' : 'Si,\u00a0 <110>-wire'"}},
     "strokeDash": {"field": "s", "type": "nominal", "scale": {"domain": ["g1","s1","g0","s0"], "range": [[1,0],[1,0],[12,7],[12,7]]},
       "legend": {"orient": "none", "legendX": 316, "legendY": 253, "title": null, "symbolType": "stroke", "symbolSize": 1764, "symbolStrokeWidth": 2.5, "symbolOffset": 4, "labelFontSize": 19, "labelFontWeight": "bold", "labelColor": "#000", "fillColor": "#fff", "strokeColor": "#555", "padding": 4, "labelOffset": 6, "rowPadding": 3.8, "clipHeight": 16, "labelExpr": "datum.label == 'g1' ? 'Ge, <100>-wire' : datum.label == 's1' ? 'Si,\u00a0 <100>-wire' : datum.label == 'g0' ? 'Ge, <110>-wire' : 'Si,\u00a0 <110>-wire'"}}
    }},
   {"data": {"values": [{"x": 0}, {"x": 10}]},
    "mark": {"type": "rule", "strokeDash": [5, 3], "strokeWidth": 1.4, "color": "#000"},
    "encoding": {"x": {"field": "x", "type": "quantitative", "scale": {"domain": [-10, 20], "nice": false, "zero": false},
      "axis": {"orient": "top", "values": [-10,-7.5,-5,-2.5,0,2.5,5,7.5,10,12.5,15,17.5,20], "labels": false, "title": null, "tickSize": {"condition": {"test": "datum.value % 5 == 0", "value": -5}, "value": -3}}}}},
   {"data": {"values": [{"x": 5.37, "y": -0.783, "t": "Off-state"}]},
    "mark": {"type": "text", "font": "Liberation Sans", "fontWeight": "bold", "fontSize": 17.5, "baseline": "middle", "color": "#000"},
    "encoding": {"x": {"field": "x", "type": "quantitative", "axis": null}, "y": {"field": "y", "type": "quantitative", "axis": null}, "text": {"field": "t"}}},
   {"data": {"values": [{"x": 5.49, "y": -0.639, "t": "IM"}]},
    "mark": {"type": "text", "font": "Liberation Sans", "fontWeight": "bold", "fontSize": 25, "baseline": "middle", "color": "#000"},
    "encoding": {"x": {"field": "x", "type": "quantitative", "axis": null}, "y": {"field": "y", "type": "quantitative", "axis": null}, "text": {"field": "t"}}}
  ],
  "resolve": {"axis": {"x": "independent", "y": "independent"}}
 }
]
}
